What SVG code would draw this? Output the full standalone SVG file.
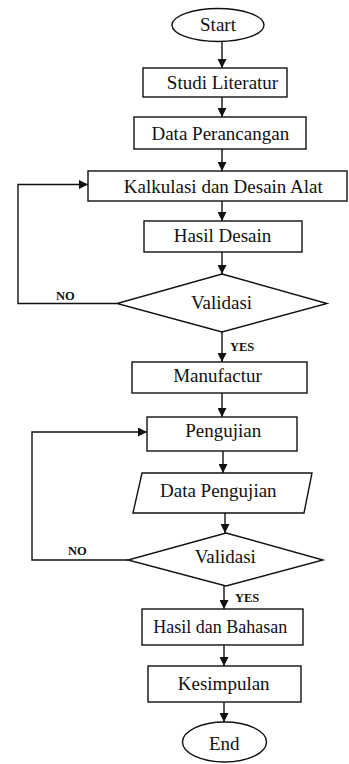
<svg xmlns="http://www.w3.org/2000/svg" width="349" height="764" viewBox="0 0 349 764">
<style>
.s{fill:#fff;stroke:#111;stroke-width:1.4}
.t{font-family:"Liberation Serif","Times New Roman",serif;font-size:19px;fill:#111;text-anchor:middle}
.l{font-family:"Liberation Serif","Times New Roman",serif;font-size:12.5px;font-weight:bold;fill:#111}
.c{fill:none;stroke:#111;stroke-width:1.4}
</style>
<defs>
<marker id="ah" viewBox="0 0 10 10" refX="10" refY="5" markerWidth="9" markerHeight="9" markerUnits="userSpaceOnUse" orient="auto">
<path d="M0,0 L10,5 L0,10 z" fill="#111"/>
</marker>
</defs>
<rect width="349" height="764" fill="#fff"/>
<g id="connectors">
<line class="c" x1="222" y1="41.5" x2="222" y2="68" marker-end="url(#ah)"/>
<line class="c" x1="222" y1="97" x2="222" y2="117" marker-end="url(#ah)"/>
<line class="c" x1="222" y1="149" x2="222" y2="171" marker-end="url(#ah)"/>
<line class="c" x1="222" y1="201" x2="222" y2="221" marker-end="url(#ah)"/>
<line class="c" x1="222" y1="252" x2="222" y2="274" marker-end="url(#ah)"/>
<line class="c" x1="222" y1="332" x2="222" y2="362" marker-end="url(#ah)"/>
<polyline class="c" points="117,303.5 18,303.5 18,184.5 88,184.5" marker-end="url(#ah)"/>
<line class="c" x1="222" y1="393" x2="222" y2="417" marker-end="url(#ah)"/>
<line class="c" x1="223" y1="451" x2="223" y2="473" marker-end="url(#ah)"/>
<line class="c" x1="225" y1="513" x2="225" y2="533" marker-end="url(#ah)"/>
<polyline class="c" points="128,560 32,560 32,432 147,432" marker-end="url(#ah)"/>
<line class="c" x1="224" y1="586" x2="224" y2="609" marker-end="url(#ah)"/>
<line class="c" x1="224" y1="645" x2="224" y2="666" marker-end="url(#ah)"/>
<line class="c" x1="224" y1="702" x2="224" y2="722" marker-end="url(#ah)"/>
<text class="l" x="56" y="300">NO</text>
<text class="l" x="230" y="350.5">YES</text>
<text class="l" x="68" y="555">NO</text>
<text class="l" x="235" y="602">YES</text>
</g>
<g id="start"><ellipse class="s" cx="218" cy="25" rx="46" ry="16.5"/><text class="t" x="218" y="30.5">Start</text></g>
<g id="studi"><rect class="s" x="143" y="68" width="144" height="29"/><text class="t" x="222.5" y="88.5">Studi Literatur</text></g>
<g id="data"><rect class="s" x="134" y="117" width="172" height="32"/><text class="t" x="220.3" y="140">Data Perancangan</text></g>
<g id="kalkulasi"><rect class="s" x="88" y="171" width="259" height="30"/><text class="t" x="223.3" y="192.5">Kalkulasi dan Desain Alat</text></g>
<g id="hasil-desain"><rect class="s" x="144" y="221" width="158" height="31"/><text class="t" x="222.5" y="241.7">Hasil Desain</text></g>
<g id="validasi1"><polygon class="s" points="222,274 327,303.5 222,332 117,303.5"/><text class="t" x="221.5" y="309">Validasi</text></g>
<g id="manufactur"><rect class="s" x="132" y="362" width="175" height="31"/><text class="t" x="217.5" y="382">Manufactur</text></g>
<g id="pengujian"><rect class="s" x="147" y="417" width="150" height="34"/><text class="t" x="223.3" y="437">Pengujian</text></g>
<g id="data-pengujian"><polygon class="s" points="142,473 312,473 304,513 133,513"/><text class="t" x="218.3" y="497">Data Pengujian</text></g>
<g id="validasi2"><polygon class="s" points="226,533 323,560 226,586 128,560"/><text class="t" x="225.3" y="563">Validasi</text></g>
<g id="hasil-bahasan"><rect class="s" x="142" y="609" width="161" height="36"/><text class="t" x="220.3" y="633" style="font-size:18px">Hasil dan Bahasan</text></g>
<g id="kesimpulan"><rect class="s" x="148" y="666" width="153" height="36"/><text class="t" x="223.7" y="690">Kesimpulan</text></g>
<g id="end"><ellipse class="s" cx="224.5" cy="742" rx="42" ry="20"/><text class="t" x="224.3" y="750">End</text></g>
</svg>
